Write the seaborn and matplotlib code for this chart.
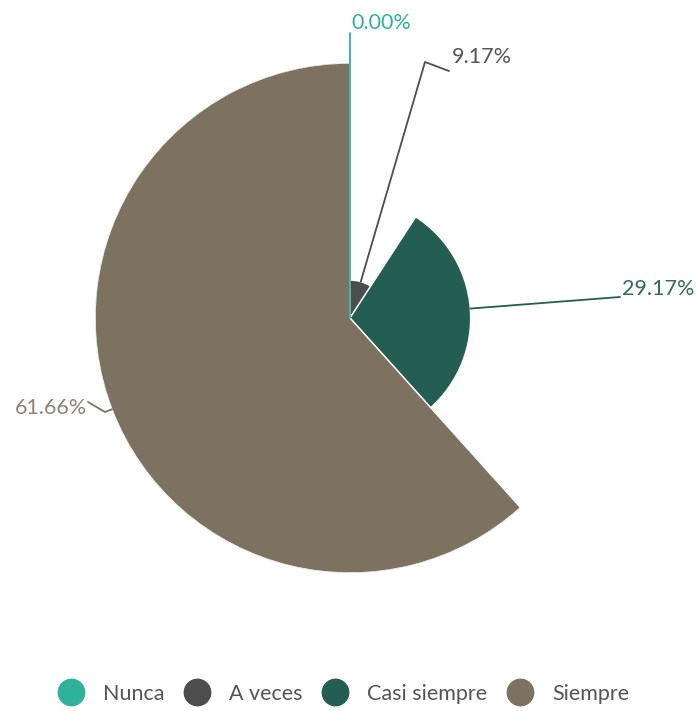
import numpy as np
import matplotlib
matplotlib.use("Agg")
import matplotlib.pyplot as plt
import seaborn as sns
from matplotlib.lines import Line2D

categories = ["Nunca", "A veces", "Casi siempre", "Siempre"]
percentages = [0.00, 9.17, 29.17, 61.66]
label_texts = ["0.00%", "9.17%", "29.17%", "61.66%"]
colors = ["#2EB39A", "#4D4D4D", "#245E52", "#7D7260"]
label_colors = ["#2EB39A", "#555555", "#2F6B5E", "#8E8574"]

sns.set_theme(style="white")
plt.rcParams["font.family"] = ["Lato", "DejaVu Sans"]

W, H = 699, 711
fig = plt.figure(figsize=(W / 100, H / 100), dpi=100)
cx, cy, R = 350, 318, 255
ax = fig.add_axes([(cx - R) / W, (H - cy - R) / H, 2 * R / W, 2 * R / H], projection="polar")
ax.set_theta_zero_location("N")
ax.set_theta_direction(-1)

vals = np.array(percentages)
widths = vals / vals.sum() * 2 * np.pi
lefts = np.concatenate([[0], np.cumsum(widths)[:-1]])
ax.bar(lefts, vals, width=widths, bottom=0, align="edge", color=colors,
       edgecolor="white", linewidth=1.0)
ax.set_ylim(0, vals.max())
ax.set_axis_off()


def px(x, y):
    return (x / W, 1 - y / H)


def edge_point(i):
    th = lefts[i] + widths[i] / 2
    disp = ax.transData.transform((th, vals[i]))
    return fig.transFigure.inverted().transform(disp)


# label layout (pixel positions of leader-line bends and texts)
layout = [
    dict(path=[(350, 33)], text=(351, 23), ha="left"),
    dict(path=[(425, 62), (449, 71)], text=(452, 57), ha="left"),
    dict(path=[(620, 297)], text=(622, 289), ha="left"),
    dict(path=[(105, 412), (88, 402)], text=(87, 408), ha="right"),
]

for i, lay in enumerate(layout):
    start = edge_point(i)
    pts = [start] + [px(*p) for p in lay["path"]]
    xs = [p[0] for p in pts]
    ys = [p[1] for p in pts]
    fig.add_artist(Line2D(xs, ys, transform=fig.transFigure, color=colors[i], lw=1.3))
    tx, ty = px(*lay["text"])
    fig.text(tx, ty, label_texts[i], color=label_colors[i], fontsize=15.5,
             ha=lay["ha"], va="center")

handles = [Line2D([0], [0], marker="o", linestyle="none", markersize=19,
                  markerfacecolor=c, markeredgecolor=c) for c in colors]
fig.legend(handles, categories, loc="center", bbox_to_anchor=(343 / W, 1 - 694 / H),
           ncol=4, frameon=False, fontsize=15.5, handlelength=1.3, handletextpad=0.85,
           columnspacing=0.85, labelcolor="#555555", borderpad=0, borderaxespad=0)

fig.savefig("out.png", dpi=100)
